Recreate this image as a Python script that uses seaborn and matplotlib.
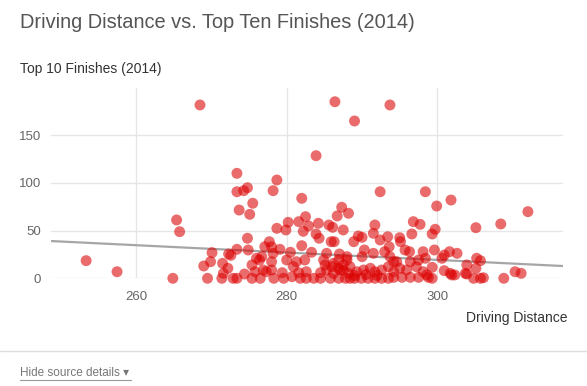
import matplotlib
matplotlib.use('Agg')
import matplotlib.pyplot as plt
import seaborn as sns
import pandas as pd

# Driving distance (yards) vs top 10 finishes, 2014
distance = [
    253.4, 257.5, 264.9, 265.4, 265.8, 268.5, 269.5, 270.1, 269.9, 269.0,
    271.4, 271.5, 271.6, 272.2, 272.6, 272.3, 272.9, 273.4, 273.4, 273.4,
    273.7, 273.4, 274.3, 274.8, 275.5, 275.1, 274.8, 274.9, 274.4, 275.4,
    276.0, 275.8, 276.7, 277.1, 275.4, 276.5, 276.9,
    286.4, 283.9, 278.7, 278.2, 282.0, 287.3, 286.7, 282.5, 280.2, 281.6,
    278.7, 279.9, 282.9, 282.2, 284.2, 283.9, 284.3, 285.6, 286.1, 287.5,
    285.9, 286.3, 277.7, 278.0, 279.1, 282.0, 280.5, 283.3, 285.3, 287.0,
    282.4, 281.3, 280.0, 278.2, 278.0, 276.4, 277.3, 284.9, 286.2, 288.0,
    285.3, 284.5, 286.2, 287.1, 282.6, 281.6, 280.7, 279.4, 282.6, 283.6,
    284.5, 285.8, 286.9, 287.8, 288.2, 287.5, 286.9, 279.6, 278.3, 281.8,
    278.0, 280.9,
    292.4, 288.2, 291.7, 291.5, 289.5, 290.0, 288.9, 292.4, 293.4, 290.3,
    291.5, 293.0, 288.0, 290.0, 293.7, 294.2,
    285.1, 286.0, 286.9, 287.5, 288.4, 289.3, 290.2, 291.1, 291.7, 292.6,
    293.5, 289.0, 289.9, 290.8, 291.7, 292.6, 293.5, 288.4, 289.0, 290.5,
    292.0,
    298.4, 301.8, 299.9, 296.8, 297.7, 299.7, 299.3, 296.6, 295.0, 295.1,
    293.6, 295.7, 296.3, 298.1, 299.6, 300.9, 301.6, 300.6, 298.4, 297.5,
    296.4, 294.6, 299.3, 300.9, 301.9, 297.2, 295.9, 295.0, 294.2, 298.1,
    298.8, 297.5, 296.4, 295.3, 294.2,
    293.7, 289.0, 312.0, 308.4, 305.1, 302.6, 305.2, 305.7, 303.9, 305.1,
    303.7, 303.9, 301.7, 304.8, 305.7, 306.1, 308.8, 310.3, 311.1, 299.3,
    298.6, 302.3,
]
top10 = [
    18.5, 6.9, 0, 61.2, 48.9, 181.8, 0, 26.9, 17.4, 12.9,
    0, 15.7, 5.2, 10.5, 24.1, 25.5, 0, 0, 110.1, 90.8,
    71.6, 30.4, 91.9, 95.0, 78.7, 67.1, 42.0, 29.7, 4.5, 14.0,
    21.0, 6.9, 22.7, 33.1, 0, 0, 8.7,
    185.2, 128.6, 103.1, 91.9, 83.9, 74.5, 65.4, 64.6, 58.7, 59.4,
    52.4, 50.7, 54.9, 49.3, 57.7, 46.5, 42.0, 55.9, 53.5, 50.7,
    38.4, 38.4, 38.4, 33.1, 30.4, 34.2, 27.3, 27.3, 26.2, 25.5,
    19.2, 17.4, 19.2, 26.2, 17.4, 19.2, 6.9, 19.2, 15.7, 19.2,
    8.7, 5.9, 5.2, 8.7, 6.9, 5.9, 1.7, 5.9, 0, 0,
    0, 0, 0, 0, 5.2, 14.0, 19.2, 0, 0, 0,
    8.7, 12.2,
    90.8, 68.2, 55.9, 47.2, 44.4, 43.0, 38.4, 40.2, 43.6, 29.7,
    26.2, 27.9, 22.7, 22.7, 22.7, 17.4,
    14.0, 12.2, 10.5, 8.7, 12.2, 6.9, 8.7, 10.5, 6.9, 8.7,
    12.2, 0, 0, 0, 0, 0, 0, 0, 3.0, 4.0,
    3.0,
    90.8, 82.1, 75.8, 59.4, 56.6, 51.4, 46.5, 46.5, 42.6, 38.4,
    33.1, 29.7, 27.9, 27.9, 29.7, 24.4, 27.9, 21.0, 21.0, 19.2,
    17.4, 17.4, 11.5, 8.0, 3.5, 12.2, 8.7, 10.5, 6.9, 6.9,
    1.0, 1.0, 1.0, 1.0, 1.0,
    181.8, 165.0, 69.9, 57.0, 53.1, 26.2, 21.0, 18.5, 14.0, 10.5,
    5.2, 4.5, 5.2, 0, 0, 0.6, 0, 6.9, 5.2, 0,
    3.5, 3.5,
]

# linear trendline, ends
trend_x = [248.7, 316.6]
trend_y = [39.1, 12.9]

x_ticks = [260, 280, 300]
y_ticks = [0, 50, 100, 150]

df = pd.DataFrame({'distance': distance, 'top10': top10})
trend = pd.DataFrame({'x': trend_x, 'y': trend_y})

sns.set_style('white')
plt.rcParams['font.family'] = ['Liberation Sans', 'DejaVu Sans']

fig = plt.figure(figsize=(5.87, 3.86), dpi=100)
ax = fig.add_axes([0.0864, 0.279, 0.872, 0.494])

sns.lineplot(data=trend, x='x', y='y', color='#a6a6a6', linewidth=1.6, ax=ax, zorder=2)
sns.scatterplot(data=df, x='distance', y='top10', color='#dc0000', alpha=0.58,
                s=62, edgecolor='none', ax=ax, zorder=3, clip_on=False)

ax.set_xlim(248.7, 316.6)
ax.set_ylim(0, 200)
ax.set_xticks(x_ticks)
ax.set_yticks(y_ticks)
ax.grid(True, color='#e6e6e6', linewidth=1)
ax.set_axisbelow(True)
for s in ax.spines.values():
    s.set_visible(False)
ax.tick_params(length=0, labelsize=9.5, colors='#666666')
ax.tick_params(axis='x', pad=9)
ax.tick_params(axis='y', pad=7)
ax.set_xlabel('')
ax.set_ylabel('')

# titulos
fig.text(20 / 587, 1 - 22 / 386, 'Driving Distance vs. Top Ten Finishes (2014)',
         fontsize=14.4, color='#555555', va='center', ha='left')
fig.text(20 / 587, 1 - 69 / 386, 'Top 10 Finishes (2014)',
         fontsize=10, color='#333333', va='center', ha='left')
fig.text(567 / 587, 1 - 318 / 386, 'Driving Distance',
         fontsize=10, color='#333333', va='center', ha='right')

# rodape
fig.add_artist(plt.Line2D([0, 1], [1 - 351 / 386] * 2, color='#dddddd', linewidth=1))
fig.text(20 / 587, 1 - 373 / 386, 'Hide source details \u25BE',
         fontsize=8.5, color='#777777', va='center', ha='left')
fig.add_artist(plt.Line2D([20 / 587, 131 / 587], [1 - 380 / 386] * 2, color='#999999', linewidth=0.8))

fig.savefig('out.png', dpi=100)
